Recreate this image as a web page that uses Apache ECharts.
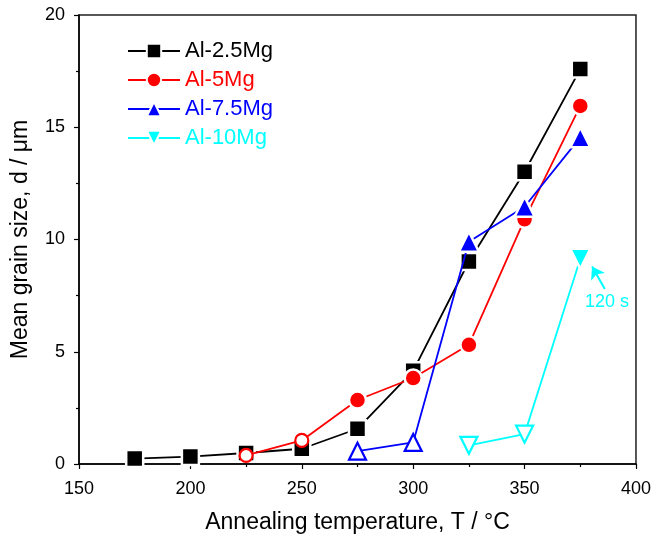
<!DOCTYPE html>
<html><head><meta charset="utf-8">
<script src="https://cdn.jsdelivr.net/npm/echarts@6/dist/echarts.min.js"></script>
<style>html,body{margin:0;padding:0;background:#fff}#c{width:654px;height:542px}</style>
</head><body><div id="c"></div>
<script>
const seriesNames = ['Al-2.5Mg','Al-5Mg','Al-7.5Mg','Al-10Mg'];
const temps25 = [175,200,225,250,275,300,325,350,375];
const grain25 = [0.24,0.33,0.49,0.68,1.57,4.15,9.02,13.02,17.59];
const temps5 = [225,250,275,300,325,350,375];
const grain5 = [0.38,1.05,2.85,3.83,5.31,10.9,15.95];
const hollow5 = [true,true,false,false,false,false,false];
const temps75 = [275,300,325,350,375];
const grain75 = [0.57,0.96,9.9,11.46,14.55];
const hollow75 = [true,true,false,false,false];
const temps10 = [325,350,375];
const grain10 = [0.83,1.33,9.14];
const hollow10 = [true,true,false];
const note = {text:'120 s', at:[387,7.2], arrowFrom:[386,7.8], arrowTo:[380.3,8.8]};

const colors = ['#000000','#FF0000','#0000FF','#00FFFF'];
const symbols = ['rect','circle','triangle','triangle'];
const sizes = [17,17,20,20];
const hollowSizes = [13,13,17,17];
const FONT = '"Liberation Sans", Arial, sans-serif';

function mk(xs, ys, hollow, k){
  return xs.map((x,i)=>{
    const d = {value:[x, ys[i]]};
    if (hollow && hollow[i]) {
      d.symbolSize = hollowSizes[k];
      d.itemStyle = {color:'#fff', borderColor:colors[k], borderWidth:2.2};
    }
    return d;
  });
}
const datas = [mk(temps25,grain25,null,0), mk(temps5,grain5,hollow5,1),
               mk(temps75,grain75,hollow75,2), mk(temps10,grain10,hollow10,3)];

const series = datas.map((d,k)=>({
  name: seriesNames[k], type:'line', data:d,
  symbol: symbols[k], symbolSize: sizes[k], symbolRotate: k===3?180:0,
  lineStyle:{color:colors[k], width:1.8},
  itemStyle:{color:colors[k], borderColor:'#fff', borderWidth:2.5},
  z: 2+k
}));
series[3].markPoint = {
  symbol:'circle', symbolSize:0, silent:true,
  data:[{coord:note.at, label:{show:true, formatter:note.text, color:colors[3], fontSize:18, fontFamily:FONT, position:'inside'}}]
};
series[3].markLine = {
  silent:true, symbol:['none','arrow'], symbolSize:12,
  lineStyle:{color:colors[3], width:2, type:'solid'}, label:{show:false},
  itemStyle:{color:colors[3]},
  data:[[{coord:note.arrowFrom},{coord:note.arrowTo}]]
};

const chart = echarts.init(document.getElementById('c'));
chart.setOption({
  animation:false,
  grid:{left:79, right:17, top:15, bottom:78, show:true, borderColor:'#222', borderWidth:1.5},
  legend:{
    left:122, top:35, orient:'vertical', itemWidth:52, itemHeight:18, itemGap:7,
    itemStyle:{borderColor:'#fff', borderWidth:2},
    data: seriesNames.map((n,k)=>({name:n, textStyle:{color:colors[k]}})),
    textStyle:{fontSize:22, fontFamily:FONT, lineHeight:22}
  },
  xAxis:{
    type:'value', min:150, max:400, interval:50,
    name:'Annealing temperature, T / \u00B0C', nameLocation:'middle', nameGap:47,
    nameTextStyle:{fontSize:23, fontFamily:FONT, color:'#000'},
    axisLine:{lineStyle:{color:'#000', width:1.5}},
    axisTick:{length:5, lineStyle:{color:'#000', width:1.2}},
    minorTick:{show:true, splitNumber:2, length:3, lineStyle:{color:'#000', width:1.2}},
    axisLabel:{fontSize:18, fontFamily:FONT, color:'#000', margin:16},
    splitLine:{show:false}
  },
  yAxis:{
    type:'value', min:0, max:20, interval:5,
    name:'Mean grain size, d / \u03BCm', nameLocation:'middle', nameGap:47,
    nameTextStyle:{fontSize:23, fontFamily:FONT, color:'#000'},
    axisLine:{show:true, lineStyle:{color:'#000', width:1.5}},
    axisTick:{show:true, length:5, lineStyle:{color:'#000', width:1.2}},
    minorTick:{show:true, splitNumber:2, length:3, lineStyle:{color:'#000', width:1.2}},
    axisLabel:{fontSize:18, fontFamily:FONT, color:'#000', margin:14},
    splitLine:{show:false}
  },
  series: series
});
</script></body></html>
